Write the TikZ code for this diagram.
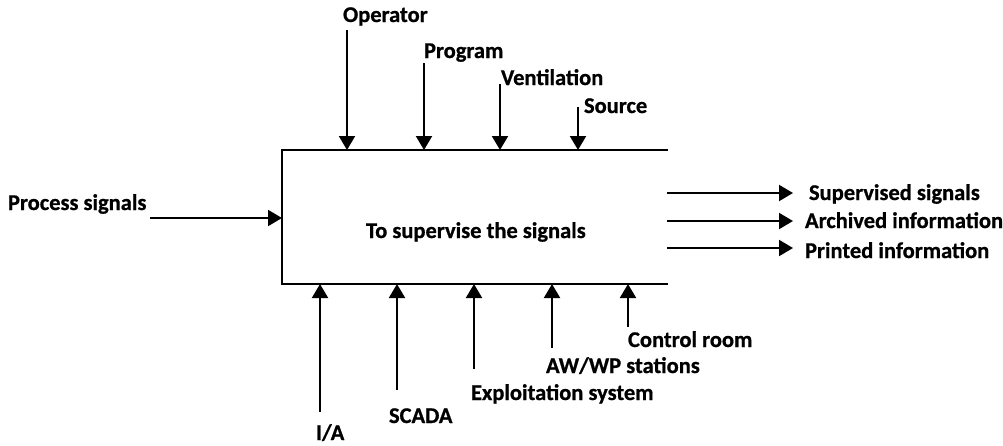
\documentclass[tikz,border=0pt]{standalone}
\usepackage{fontspec}
\setmainfont{Carlito}[FakeBold=0.8]
\usetikzlibrary{arrows.meta}
\begin{document}
\begin{tikzpicture}[x=1pt,y=-1pt,line width=2pt,
  lbl/.style={anchor=base west,inner sep=0pt,font=\fontsize{22.5}{27}\selectfont\bfseries},
  arr/.style={-{Triangle[width=16pt,length=14pt]}}]
\useasboundingbox (0,0) rectangle (1003,445);
% box (open on the right)
\coordinate (tr) at (668,150);
\coordinate (tl) at (282,150);
\coordinate (bl) at (282,284);
\coordinate (br) at (668,284);
\draw (tr) -- (tl) -- (bl) -- (br);
\node[lbl] (main) at (365,238) {To supervise the signals};
% top inputs
\node[lbl] (opl) at (342,22) {Operator};
\node[lbl] (prl) at (423,58) {Program};
\node[lbl] (vel) at (500,85) {Ventilation};
\node[lbl] (sol) at (583,113) {Source};
\coordinate (opt) at (347,30);  \coordinate (opb) at (347,150);
\coordinate (prt) at (424,63);  \coordinate (prb) at (424,150);
\coordinate (vet) at (500,84);  \coordinate (veb) at (500,150);
\coordinate (sot) at (578,107); \coordinate (sob) at (578,150);
\draw[arr] (opt) -- (opb);
\draw[arr] (prt) -- (prb);
\draw[arr] (vet) -- (veb);
\draw[arr] (sot) -- (sob);
% left input
\node[lbl] (psl) at (7,210) {Process signals};
\coordinate (pst) at (150,218); \coordinate (psb) at (282,218);
\draw[arr] (pst) -- (psb);
% right outputs
\node[lbl] (sul) at (808,200) {Supervised signals};
\node[lbl] (arl) at (804,228) {Archived information};
\node[lbl] (pil) at (804,258) {Printed information};
\coordinate (sus) at (667,193); \coordinate (sue) at (793,193);
\coordinate (ars) at (667,221); \coordinate (are) at (793,221);
\coordinate (pis) at (667,248); \coordinate (pie) at (793,248);
\draw[arr] (sus) -- (sue);
\draw[arr] (ars) -- (are);
\draw[arr] (pis) -- (pie);
% bottom inputs
\node[lbl] (ial) at (315,440) {I/A};
\node[lbl] (scl) at (388,423) {SCADA};
\node[lbl] (exl) at (470,400) {Exploitation system};
\node[lbl] (awl) at (545,373) {AW/WP stations};
\node[lbl] (crl) at (627,347) {Control room};
\coordinate (iab) at (320,412); \coordinate (iat) at (320,284);
\coordinate (scb) at (397,390); \coordinate (sct) at (397,284);
\coordinate (exb) at (474,369); \coordinate (ext) at (474,284);
\coordinate (awb) at (552,348); \coordinate (awt) at (552,284);
\coordinate (crb) at (628,327); \coordinate (crt) at (628,284);
\draw[arr] (iab) -- (iat);
\draw[arr] (scb) -- (sct);
\draw[arr] (exb) -- (ext);
\draw[arr] (awb) -- (awt);
\draw[arr] (crb) -- (crt);
\end{tikzpicture}
\end{document}
